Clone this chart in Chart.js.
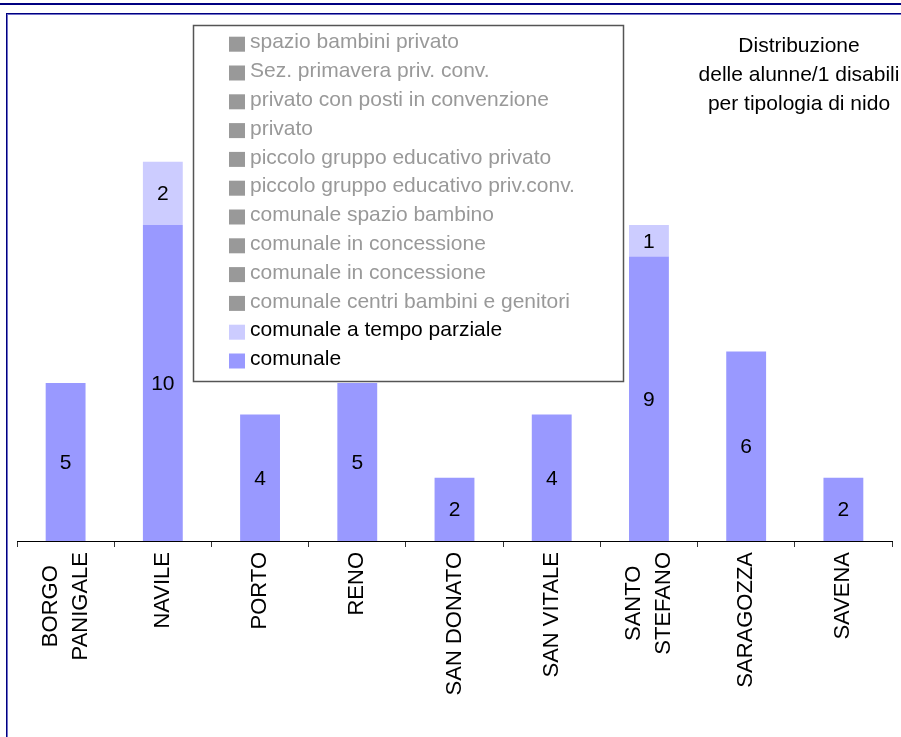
<!DOCTYPE html>
<html>
<head>
<meta charset="utf-8">
<title>Distribuzione delle alunne/1 disabili per tipologia di nido</title>
<script src="https://cdn.jsdelivr.net/npm/chart.js@4/dist/chart.umd.min.js"></script>
<style>
  html, body { margin: 0; padding: 0; background: #fff; }
  #wrap { position: relative; width: 901px; height: 737px; }
</style>
</head>
<body>
<div id="wrap"><canvas id="chart" width="901" height="737"></canvas></div>
<script>
// Data
const categories = [['BORGO', 'PANIGALE'], 'NAVILE', 'PORTO', 'RENO', 'SAN DONATO', 'SAN VITALE', ['SANTO', 'STEFANO'], 'SARAGOZZA', 'SAVENA'];
const comunale = [5, 10, 4, 5, 2, 4, 9, 6, 2];
const tempoParziale = [0, 2, 0, 0, 0, 0, 1, 0, 0];
const emptySeries = [0, 0, 0, 0, 0, 0, 0, 0, 0];
// series with no pupils, bottom of stack first
const emptyNames = [
  'comunale centri bambini e genitori',
  'comunale in concessione',
  'comunale in concessione',
  'comunale spazio bambino',
  'piccolo gruppo educativo priv.conv.',
  'piccolo gruppo educativo privato',
  'privato',
  'privato con posti in convenzione',
  'Sez. primavera priv. conv.',
  'spazio bambini privato'
];
const titleLines = ['Distribuzione', 'delle alunne/1 disabili', 'per tipologia di nido'];

const FONT = '"Liberation Sans", Arial, sans-serif';

const datasets = [
  { label: 'comunale', data: comunale, backgroundColor: '#9999FF', legendColor: '#000' },
  { label: 'comunale a tempo parziale', data: tempoParziale, backgroundColor: '#CCCCFF', legendColor: '#000' }
];
emptyNames.forEach(name => {
  datasets.push({ label: name, data: emptySeries, backgroundColor: '#999999', legendColor: '#999999' });
});

// Frame around the picture
const framePlugin = {
  id: 'frame',
  beforeDraw(chart) {
    const ctx = chart.ctx;
    ctx.save();
    ctx.fillStyle = '#000080';
    ctx.fillRect(0, 3, 901, 2);
    ctx.fillRect(6, 13, 901, 1);
    ctx.fillRect(6, 13, 1, 737);
    ctx.fillStyle = '#7070c8';
    ctx.fillRect(7, 14, 901, 1);
    ctx.fillRect(7, 14, 1, 737);
    ctx.restore();
  }
};

// Values inside the bars
const valueLabels = {
  id: 'valueLabels',
  afterDatasetsDraw(chart) {
    const ctx = chart.ctx;
    ctx.save();
    ctx.font = '21px ' + FONT;
    ctx.fillStyle = '#000';
    ctx.textAlign = 'center';
    ctx.textBaseline = 'middle';
    chart.data.datasets.forEach((ds, di) => {
      const meta = chart.getDatasetMeta(di);
      meta.data.forEach((bar, i) => {
        const v = ds.data[i];
        if (!v) return;
        ctx.fillText(String(v), bar.x, (bar.y + bar.base) / 2 + 1);
      });
    });
    ctx.restore();
  }
};

// Rotated category names, lines centred on each other
const categoryLabels = {
  id: 'categoryLabels',
  afterDraw(chart) {
    const ctx = chart.ctx;
    const xScale = chart.scales.x;
    ctx.save();
    ctx.font = '22px ' + FONT;
    ctx.fillStyle = '#000';
    ctx.textAlign = 'center';
    ctx.textBaseline = 'middle';
    categories.forEach((label, i) => {
      const lines = Array.isArray(label) ? label : [label];
      const maxW = Math.max(...lines.map(l => ctx.measureText(l).width));
      ctx.save();
      ctx.translate(xScale.getPixelForTick(i), 552);
      ctx.rotate(-Math.PI / 2);
      lines.forEach((line, j) => {
        ctx.fillText(line, -maxW / 2, (j - (lines.length - 1) / 2) * 30);
      });
      ctx.restore();
    });
    ctx.restore();
  }
};

// Legend box and title, drawn over the plot
const legendBox = {
  id: 'legendBox',
  afterDraw(chart) {
    const ctx = chart.ctx;
    ctx.save();
    ctx.fillStyle = '#fff';
    ctx.fillRect(193, 25, 430, 356);
    ctx.strokeStyle = '#555';
    ctx.lineWidth = 1.5;
    ctx.strokeRect(193.5, 25.5, 430, 356);

    ctx.font = '21px ' + FONT;
    ctx.textBaseline = 'middle';
    ctx.textAlign = 'left';
    const items = chart.data.datasets.slice().reverse();
    items.forEach((ds, k) => {
      const y = 41.7 + k * 28.8;
      ctx.fillStyle = ds.backgroundColor;
      ctx.fillRect(229, y - 5, 16, 15);
      ctx.fillStyle = ds.legendColor;
      ctx.fillText(ds.label, 250, y + 1);
    });

    ctx.fillStyle = '#000';
    ctx.textAlign = 'center';
    ctx.textBaseline = 'alphabetic';
    ctx.font = '21px ' + FONT;
    titleLines.forEach((line, k) => {
      ctx.fillText(line, 799, 51.5 + k * 29);
    });
    ctx.restore();
  }
};

// Render Chart
const ctx = document.getElementById('chart').getContext('2d');
new Chart(ctx, {
  type: 'bar',
  data: { labels: categories, datasets: datasets },
  options: {
    responsive: false,
    animation: false,
    layout: { padding: { left: 17, right: 9, top: 35.4, bottom: 190 } },
    datasets: { bar: { categoryPercentage: 1, barPercentage: 0.41 } },
    plugins: {
      legend: { display: false },
      tooltip: { enabled: false },
      title: { display: false }
    },
    scales: {
      x: {
        stacked: true,
        offset: true,
        ticks: { display: false },
        grid: { display: true, offset: true, drawOnChartArea: false, drawTicks: true, tickLength: 6, color: '#333' },
        border: { display: true, color: '#000', width: 1 }
      },
      y: {
        stacked: true,
        display: false,
        min: 0,
        max: 16
      }
    }
  },
  plugins: [framePlugin, valueLabels, categoryLabels, legendBox]
});
</script>
</body>
</html>
